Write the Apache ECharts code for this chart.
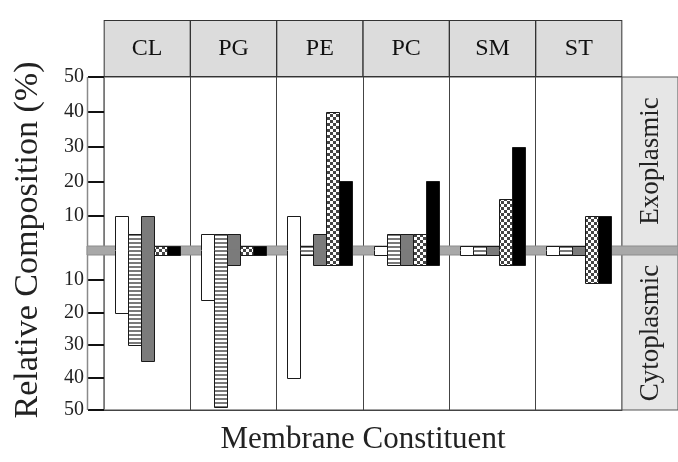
<!DOCTYPE html>
<html><head><meta charset="utf-8">
<script src="https://cdn.jsdelivr.net/npm/echarts@6/dist/echarts.min.js"></script>
<style>html,body{margin:0;padding:0;background:#fff}#c{width:678px;height:462px}</style>
</head><body><div id="c"></div>
<script>
// ---- data ----
const categories = ['CL', 'PG', 'PE', 'PC', 'SM', 'ST'];
const exoWhite     = [10, 5, 10, 0, 0, 0];
const cytoWhite    = [20, 16, 40, 0, 0, 0];
const exoStriped   = [5, 5, 0, 5, 0, 0];
const cytoStriped  = [30, 49, 0, 5.5, 0, 0];
const exoGray      = [10, 5, 5, 5, 0, 0];
const cytoGray     = [35, 5.5, 5.5, 5.5, 0, 0];
const exoChecker   = [0, 0, 40, 5, 15, 10];
const cytoChecker  = [0, 0, 5.5, 5.5, 5.5, 11];
const exoBlack     = [0, 0, 20, 20, 30, 10];
const cytoBlack    = [0, 0, 5.5, 5.5, 5.5, 11];
const yTickLabels  = [10, 20, 30, 40, 50];

// ---- layout / style ----
const GRID_LEFT = 104, GRID_RIGHT_X = 622, UP_TOP = 77, UP_BOT = 251, LO_TOP = 247.5, LO_BOT = 410;
const BAND_TOP = 246, BAND_BOT = 255, BAND_MID = 250.5;
const SERIF = "'Liberation Serif','DejaVu Serif',serif";

function makeCanvas(w, h, draw) { const c = document.createElement('canvas'); c.width = w; c.height = h; draw(c.getContext('2d')); return c; }
const stripeCanvas = makeCanvas(4, 4, g => { g.fillStyle = '#fff'; g.fillRect(0, 0, 4, 4); g.fillStyle = '#7a7a7a'; g.fillRect(0, 2, 4, 2); });
const checkCanvas = makeCanvas(6, 6, g => { g.fillStyle = '#fff'; g.fillRect(0, 0, 6, 6); g.fillStyle = '#444'; g.fillRect(0, 0, 3, 3); g.fillRect(3, 3, 3, 3); });
const fills = ['#ffffff', { image: stripeCanvas, repeat: 'repeat' }, '#7b7b7b', { image: checkCanvas, repeat: 'repeat' }, '#000000'];

const exoSets = [exoWhite, exoStriped, exoGray, exoChecker, exoBlack];
const cytoSets = [cytoWhite, cytoStriped, cytoGray, cytoChecker, cytoBlack];
const upperData = [], lowerData = [];
exoSets.forEach((arr, k) => arr.forEach((v, i) => upperData.push([i, v, k])));
cytoSets.forEach((arr, k) => arr.forEach((v, i) => lowerData.push([i, v, k])));

function barX(api, cat, k) {
  const center = api.coord([cat, 0])[0];
  const bw = api.size([1, 0])[0] * 0.151;
  const x0 = Math.round(center + (k - 2.5) * bw) + 0.5;
  return [x0, Math.round(bw)];
}
function renderUpper(params, api) {
  const cat = api.value(0), v = api.value(1), k = api.value(2);
  const [x0, bw] = barX(api, cat, k);
  const yTop = Math.round(Math.min(api.coord([cat, v])[1], BAND_TOP)) + 0.5;
  return { type: 'group', children: [
    { type: 'rect', shape: { x: x0, y: yTop, width: bw, height: BAND_MID + 0.6 - yTop }, style: { fill: fills[k] } },
    { type: 'polyline', shape: { points: [[x0, BAND_MID], [x0, yTop], [x0 + bw, yTop], [x0 + bw, BAND_MID]] }, style: { fill: null, stroke: '#1a1a1a', lineWidth: 1 } }
  ] };
}
function renderLower(params, api) {
  const cat = api.value(0), v = api.value(1), k = api.value(2);
  const [x0, bw] = barX(api, cat, k);
  const yBot = Math.round(Math.max(api.coord([cat, v])[1], BAND_BOT)) + 0.5;
  return { type: 'group', children: [
    { type: 'rect', shape: { x: x0, y: BAND_MID - 0.6, width: bw, height: yBot - BAND_MID + 0.6 }, style: { fill: fills[k] } },
    { type: 'polyline', shape: { points: [[x0, BAND_MID], [x0, yBot], [x0 + bw, yBot], [x0 + bw, BAND_MID]] }, style: { fill: null, stroke: '#1a1a1a', lineWidth: 1 } }
  ] };
}

const yAxisCommon = {
  type: 'value', min: 0, max: 50, interval: 10,
  axisLine: { show: true, lineStyle: { color: '#8a8a8a', width: 1.5 } },
  axisTick: { show: true, inside: false, length: 16, lineStyle: { color: '#111', width: 2 } },
  axisLabel: { margin: 20, fontFamily: SERIF, fontSize: 20, color: '#222', formatter: v => (yTickLabels.indexOf(v) >= 0 ? String(v) : '') },
  splitLine: { show: false }
};

const chart = echarts.init(document.getElementById('c'), null, { renderer: 'canvas' });
chart.setOption({
  animation: false,
  backgroundColor: '#fff',
  grid: [
    { left: GRID_LEFT, right: 678 - GRID_RIGHT_X, top: UP_TOP, height: UP_BOT - UP_TOP, show: true, borderColor: '#444', borderWidth: 1, backgroundColor: '#fff' },
    { left: GRID_LEFT, right: 678 - GRID_RIGHT_X, top: LO_TOP, height: LO_BOT - LO_TOP, show: true, borderColor: '#444', borderWidth: 1, backgroundColor: '#fff' }
  ],
  xAxis: [
    { type: 'category', gridIndex: 0, data: categories, position: 'top',
      axisLine: { show: false }, axisTick: { show: false },
      splitLine: { show: true, lineStyle: { color: '#444', width: 1 } },
      axisLabel: { interval: 0, hideOverlap: false, margin: 1, fontFamily: SERIF, fontSize: 24, color: '#111',
        backgroundColor: '#dcdcdc', borderColor: '#333', borderWidth: 1, width: 85, height: 55, lineHeight: 55, align: 'center', padding: 0 } },
    { type: 'category', gridIndex: 1, data: categories, position: 'bottom',
      axisLine: { show: true, onZero: false, lineStyle: { color: '#444' } }, axisTick: { show: false }, axisLabel: { show: false },
      splitLine: { show: true, lineStyle: { color: '#444', width: 1 } },
      name: 'Membrane Constituent', nameLocation: 'middle', nameGap: 14,
      nameTextStyle: { fontFamily: SERIF, fontSize: 31, color: '#222', verticalAlign: 'top' } }
  ],
  yAxis: [
    Object.assign({ gridIndex: 0 }, yAxisCommon),
    Object.assign({ gridIndex: 1, inverse: true }, yAxisCommon)
  ],
  graphic: [
    { type: 'rect', z: 1, shape: { x: GRID_RIGHT_X, y: UP_TOP, width: 678 - GRID_RIGHT_X, height: LO_BOT - UP_TOP }, style: { fill: '#e6e6e6', stroke: '#555', lineWidth: 1 } },
    { type: 'line', z: 1, shape: { x1: 87.5, y1: UP_TOP, x2: 87.5, y2: LO_BOT }, style: { stroke: '#8a8a8a', lineWidth: 1.5 } },
    { type: 'rect', z: 3, shape: { x: 87, y: BAND_TOP, width: 678 - 87, height: BAND_BOT - BAND_TOP }, style: { fill: '#a8a8a8', stroke: '#8c8c8c', lineWidth: 1 } },
    { type: 'text', z: 4, x: 28, y: 240, rotation: Math.PI / 2, style: { text: 'Relative Composition (%)', font: "34px 'Liberation Serif', serif", fill: '#222', align: 'center', verticalAlign: 'middle' } },
    { type: 'text', z: 4, x: 651, y: 161, rotation: Math.PI / 2, style: { text: 'Exoplasmic', font: "27px 'Liberation Serif', serif", fill: '#222', align: 'center', verticalAlign: 'middle' } },
    { type: 'text', z: 4, x: 651, y: 333, rotation: Math.PI / 2, style: { text: 'Cytoplasmic', font: "27px 'Liberation Serif', serif", fill: '#222', align: 'center', verticalAlign: 'middle' } }
  ],
  series: [
    { type: 'custom', name: 'Exoplasmic', xAxisIndex: 0, yAxisIndex: 0, z: 10, renderItem: renderUpper, data: upperData, encode: { x: 0, y: 1 }, clip: false },
    { type: 'custom', name: 'Cytoplasmic', xAxisIndex: 1, yAxisIndex: 1, z: 10, renderItem: renderLower, data: lowerData, encode: { x: 0, y: 1 }, clip: false }
  ]
});
</script></body></html>
